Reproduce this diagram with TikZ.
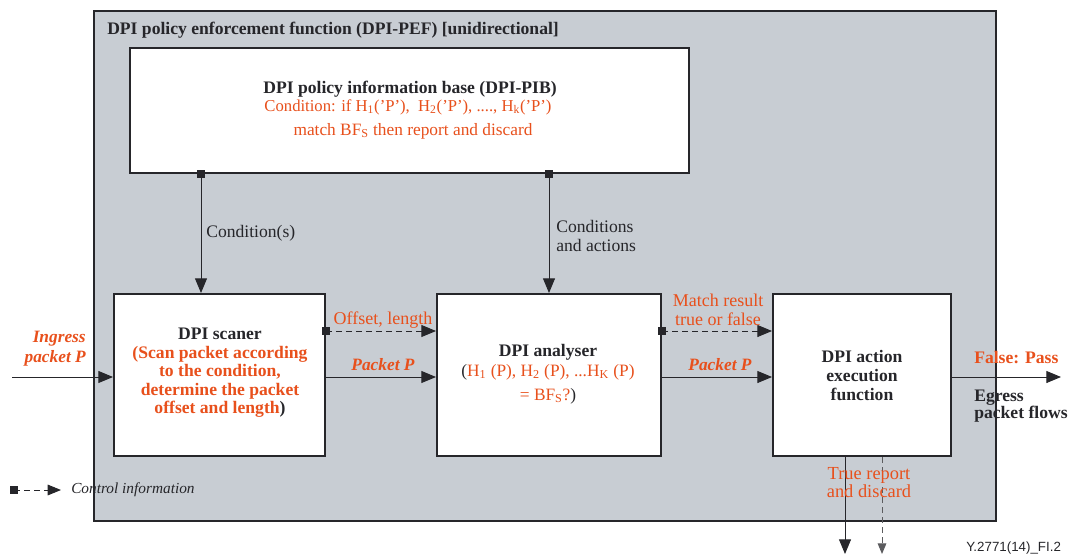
\documentclass[tikz,border=0pt]{standalone}
\usepackage{fontspec}
\setmainfont{Liberation Serif}
\newfontfamily\figsans{Liberation Sans}
\usetikzlibrary{arrows.meta,calc}
\definecolor{pefgray}{RGB}{200,205,211}
\definecolor{dpiorange}{RGB}{232,80,28}
\definecolor{dpidark}{RGB}{38,38,42}
\tikzset{
  box/.style={draw=dpidark, line width=1.5pt, fill=white, inner sep=0pt},
  conn/.style={draw=dpidark, line width=0.7pt, -{Triangle[length=11pt,width=9pt]}},
  ctrl/.style={conn, dashed, dash pattern=on 4.5pt off 3pt},
  sq/.style={fill=dpidark, minimum size=6pt, inner sep=0pt},
  lbl/.style={text=dpidark, font=\fontsize{13.2}{14.5}\selectfont, inner sep=0pt},
  olbl/.style={text=dpiorange, font=\fontsize{13.5}{14.5}\selectfont, inner sep=0pt},
  obold/.style={text=dpiorange, font=\fontsize{13.2}{14.5}\selectfont\bfseries, inner sep=0pt},
  oboldit/.style={text=dpiorange, font=\fontsize{13}{15}\selectfont\bfseries\itshape, inner sep=0pt},
  dbold/.style={text=dpidark, font=\fontsize{13.2}{14.5}\selectfont\bfseries, inner sep=0pt},
  pibtext/.style={inner sep=0pt, text=dpiorange, font=\fontsize{13}{14}\selectfont},
}
\begin{document}
\begin{tikzpicture}[x=0.75pt,y=-0.75pt]
\useasboundingbox (0,0) rectangle (1069,556);
% outer PEF box
\node[draw=dpidark, line width=1.5pt, fill=pefgray, minimum width=676.5pt, minimum height=382.5pt, inner sep=0pt] (pef) at (545,266) {};
\node[dbold, anchor=west] (title) at (107,30) {DPI policy enforcement function (DPI-PEF) [unidirectional]};
% PIB
\node[box, minimum width=419.25pt, minimum height=93.75pt] (pib) at (409.5,110.5) {};
\node[dbold] (pibt) at (410,89) {DPI policy information base (DPI-PIB)};
\node[pibtext, font=\fontsize{12.5}{14}\selectfont] (pibc) at (408,107) {Condition: if H\textsubscript{1}('P'),\ \ H\textsubscript{2}('P'), ...., H\textsubscript{k}('P')};
\node[pibtext] (pibm) at (413,131) {match BF\textsubscript{S} then report and discard};
% main boxes
\node[box, minimum width=158.25pt, minimum height=121.5pt] (scan) at (219.5,375) {};
\node[box, minimum width=168pt, minimum height=121.5pt] (ana) at (549,375) {};
\node[box, minimum width=133.5pt, minimum height=121.5pt] (act) at (862,375) {};
% box texts
\node[dbold, align=center, font=\fontsize{13.2}{13.9}\selectfont\bfseries] (scant) at (220,373)
  {DPI scaner\\\textcolor{dpiorange}{(Scan packet according}\\\textcolor{dpiorange}{to the condition,}\\\textcolor{dpiorange}{determine the packet}\\\textcolor{dpiorange}{offset and length})};
\node[dbold] (anat) at (548,352) {DPI analyser};
\node[olbl, font=\fontsize{13}{14.5}\selectfont] (anaf) at (548,372) {\textcolor{dpidark}{(}H\textsubscript{1} (P), H\textsubscript{2} (P), ...H\textsubscript{K} (P)};
\node[olbl, font=\fontsize{13}{14.5}\selectfont] (anab) at (548,396) {= BF\textsubscript{S}?\textcolor{dpidark}{)}};
\node[dbold, align=center, font=\fontsize{13.2}{14.25}\selectfont\bfseries] (actt) at (862,375) {DPI action\\execution\\function};
% coordinates for connector lines
\coordinate (xc1) at (201,0);
\coordinate (xc2) at (549,0);
\coordinate (yd) at (0,331);
\coordinate (yp) at (0,377);
\coordinate (xt) at (845,0);
\coordinate (xf) at (882,0);
\coordinate (inS) at (12,377);
\coordinate (egE) at (1061,377);
\coordinate (tEnd) at (845,554);
\coordinate (fEnd) at (882,554);
% vertical condition arrows
\draw[conn] (pib.south -| xc1) -- (scan.north -| xc1);
\node[sq] (s1) at (pib.south -| xc1) {};
\draw[conn] (pib.south -| xc2) -- (ana.north -| xc2);
\node[sq] (s2) at (pib.south -| xc2) {};
\node[lbl, anchor=west] (condl) at (206,233) {Condition(s)};
\node[lbl, anchor=west, align=left, font=\fontsize{13.2}{14.25}\selectfont] (condal) at (556,236) {Conditions\\and actions};
% ingress
\draw[conn] (inS) -- (scan.west |- inS);
\node[oboldit, anchor=east, align=right] (ingl) at (86,349) {Ingress\\packet P};
% scanner -> analyser
\draw[ctrl] (scan.east |- yd) -- (ana.west |- yd);
\node[sq] (s3) at (scan.east |- yd) {};
\node[olbl] (offl) at (383,320) {Offset, length};
\draw[conn] (scan.east |- yp) -- (ana.west |- yp);
\node[oboldit] (pk1) at (383,365) {Packet P};
% analyser -> action
\draw[ctrl] (ana.east |- yd) -- (act.west |- yd);
\node[sq] (s4) at (ana.east |- yd) {};
\node[olbl, align=center, font=\fontsize{13.5}{14.25}\selectfont] (matchl) at (718,310) {Match result\\true or false};
\draw[conn] (ana.east |- yp) -- (act.west |- yp);
\node[oboldit] (pk2) at (720,365) {Packet P};
% egress
\draw[conn] (act.east |- yp) -- (egE);
\node[obold, anchor=west] (passl) at (974,358) {False: Pass};
\node[dbold, anchor=west, align=left, font=\fontsize{13.2}{13.3}\selectfont\bfseries] (egl) at (974,406) {Egress\\packet flows};
% outputs down
\draw[conn] (act.south -| xt) -- (tEnd);
\draw[ctrl, -{Triangle[length=8pt,width=6.5pt]}, draw=dpidark!75] (act.south -| xf) -- (fEnd);
\node[olbl, align=center, font=\fontsize{13.8}{13.5}\selectfont] (truel) at (869,483) {True report\\and discard};
% legend
\coordinate (lg1) at (14,490);
\coordinate (lg2) at (61,490);
\draw[ctrl, -{Triangle[length=10pt,width=8pt]}] (lg1) -- (lg2);
\node[sq] (s5) at (lg1) {};
\node[lbl, anchor=west, font=\fontsize{11.5}{12}\selectfont\itshape] (legl) at (71,490) {Control information};
% figure id
\node[lbl, anchor=west, font=\fontsize{10}{11}\figsans] (figid) at (966,548) {Y.2771(14)\_FI.2};
\end{tikzpicture}
\end{document}
